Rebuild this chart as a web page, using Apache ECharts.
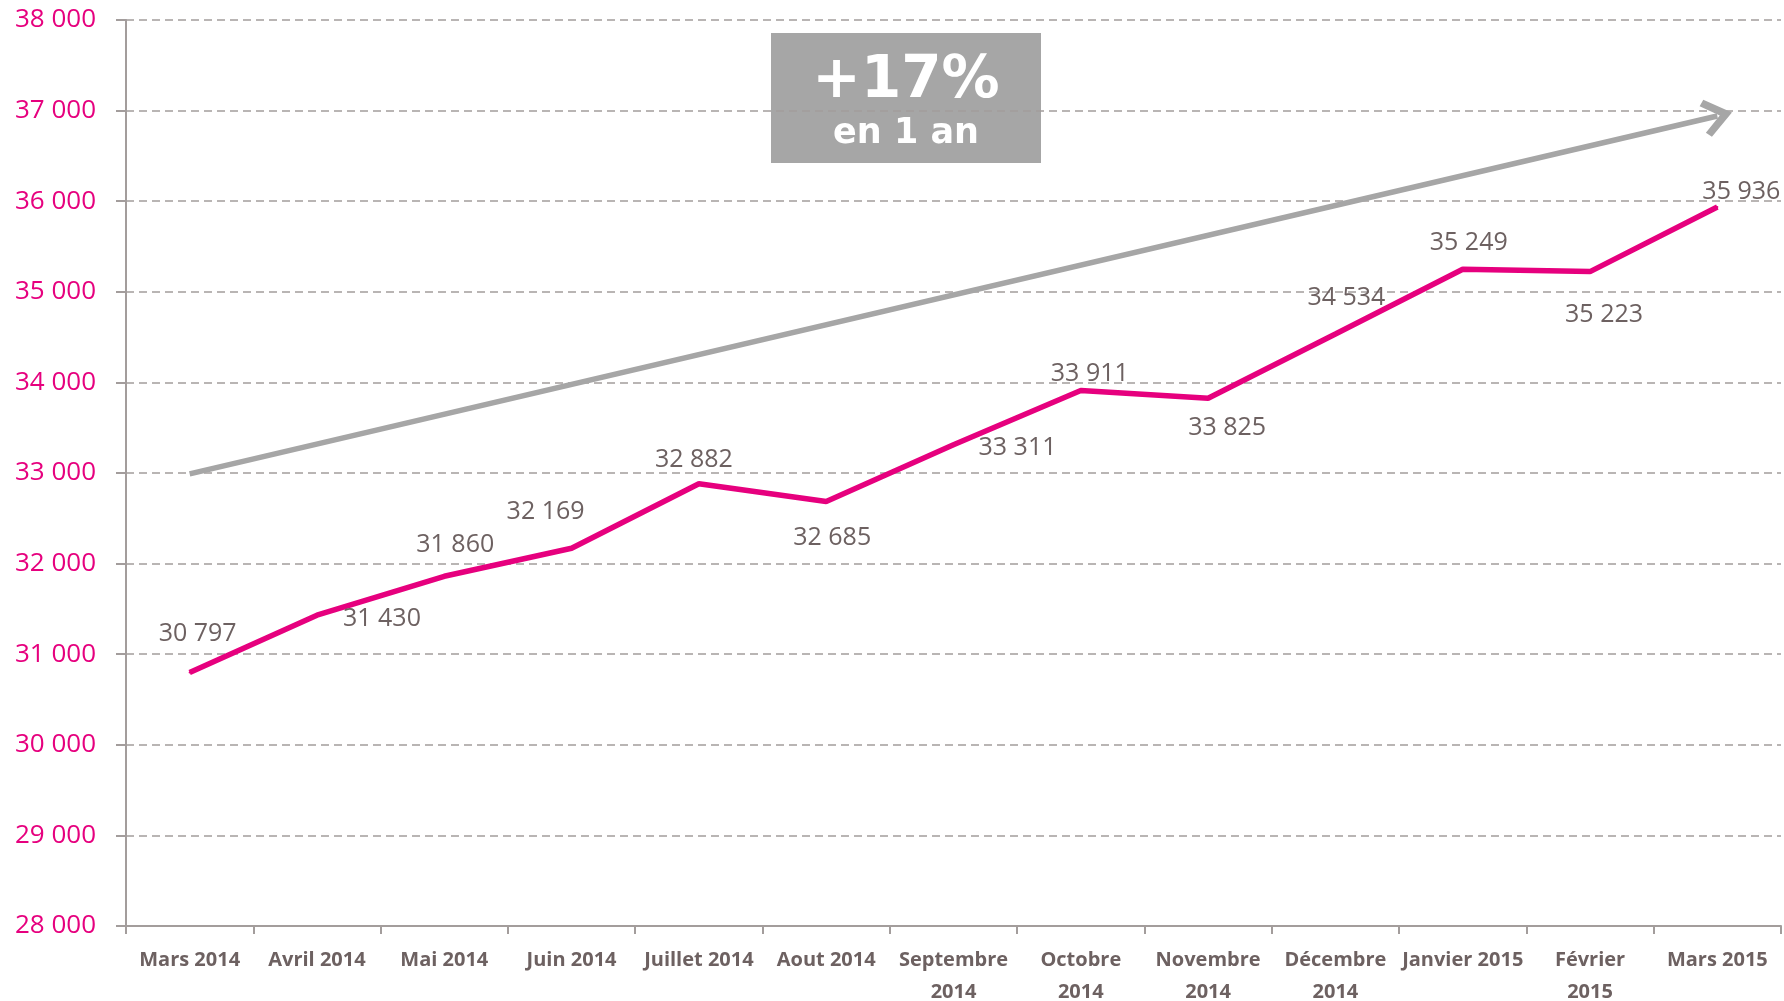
<!DOCTYPE html>
<html>
<head>
<meta charset="utf-8">
<script src="https://cdn.jsdelivr.net/npm/echarts@6/dist/echarts.min.js"></script>
<style>
  html, body { margin: 0; padding: 0; background: #fff; }
  #chart { width: 1784px; height: 1001px; }
</style>
</head>
<body>
<div id="chart"></div>
<script>
// mois
var months = ['Mars 2014', 'Avril 2014', 'Mai 2014', 'Juin 2014', 'Juillet 2014', 'Aout 2014',
  'Septembre\n2014', 'Octobre\n2014', 'Novembre\n2014', 'Décembre\n2014', 'Janvier 2015',
  'Février\n2015', 'Mars 2015'];
// effectifs
var values = [30797, 31430, 31860, 32169, 32882, 32685, 33311, 33911, 33825, 34534, 35249, 35223, 35936];
// flèche de tendance (+17% en 1 an)
var trendStart = 32990;
var trendEnd = 36940;
// décalage des étiquettes (px)
var labelOffsets = [[8, -39], [65, 4], [11, -31], [-26, -36], [-5, -24], [6, 36], [64, 3],
  [9, -17], [19, 30], [11, -36], [6, -26], [14, 43], [24, -15]];

function fmt(v) {
  return String(v).replace(/\B(?=(\d{3})+(?!\d))/g, ' ');
}

var myChart = echarts.init(document.getElementById('chart'));

var seriesData = [];
for (var i = 0; i < values.length; i++) {
  seriesData.push({
    value: values[i],
    label: { offset: labelOffsets[i] }
  });
}

var option = {
  animation: false,
  backgroundColor: '#fff',
  grid: {
    left: 126, right: 3, top: 20, bottom: 75,
    containLabel: false,
    outerBoundsMode: 'none'
  },
  xAxis: {
    type: 'category',
    data: months,
    boundaryGap: true,
    axisLine: { lineStyle: { color: '#a39d9c', width: 2 } },
    axisTick: { show: true, length: 8, lineStyle: { color: '#a39d9c', width: 2 } },
    axisLabel: {
      interval: 0,
      margin: 18,
      color: '#6d6161',
      fontFamily: 'Open Sans',
      fontWeight: 'bold',
      fontSize: 20,
      lineHeight: 32
    },
    splitLine: { show: false }
  },
  yAxis: {
    type: 'value',
    min: 28000,
    max: 38000,
    interval: 1000,
    axisLine: { show: true, lineStyle: { color: '#a39d9c', width: 2 } },
    axisTick: { show: true, length: 10, lineStyle: { color: '#a39d9c', width: 2 } },
    axisLabel: {
      margin: 30,
      color: '#e6007e',
      fontFamily: 'Open Sans',
      fontSize: 26,
      formatter: fmt
    },
    splitLine: { lineStyle: { color: '#a39d9c', width: 1.5, type: [8, 5] } }
  },
  series: [{
    type: 'line',
    data: seriesData,
    symbol: 'circle',
    symbolSize: 2,
    showSymbol: true,
    itemStyle: { color: '#e6007e' },
    lineStyle: { color: '#e6007e', width: 5.5 },
    label: {
      show: true,
      position: 'inside',
      color: '#6d6161',
      fontFamily: 'Open Sans',
      fontSize: 25,
      formatter: function (p) { return fmt(p.value); }
    },
    emphasis: { disabled: true },
    markLine: {
      silent: true,
      symbol: ['none', 'path://M16,0 L32,20 L27.5,24 L16,10 L4.5,24 L0,20 Z'],
      symbolSize: [38, 30],
      lineStyle: { color: '#a6a6a6', width: 5.5, type: 'solid' },
      itemStyle: { color: '#a6a6a6' },
      label: { show: false },
      emphasis: { disabled: true },
      data: [[
        { coord: [months[0], trendStart] },
        { coord: [months[months.length - 1], trendEnd] }
      ]]
    }
  }],
  graphic: [{
    type: 'group',
    left: 771,
    top: 33,
    children: [{
      type: 'rect',
      shape: { x: 0, y: 0, width: 270, height: 130 },
      style: { fill: '#a6a6a6' }
    }, {
      type: 'text',
      x: 135, y: 49,
      style: {
        text: '+17%',
        fill: '#fff',
        font: 'bold 58px "DejaVu Sans"',
        align: 'center', verticalAlign: 'middle',
        textAlign: 'center', textVerticalAlign: 'middle'
      }
    }, {
      type: 'text',
      x: 135, y: 101,
      style: {
        text: 'en 1 an',
        fill: '#fff',
        font: 'bold 35px "DejaVu Sans"',
        align: 'center', verticalAlign: 'middle',
        textAlign: 'center', textVerticalAlign: 'middle'
      }
    }]
  }]
};

myChart.setOption(option);
</script>
</body>
</html>
